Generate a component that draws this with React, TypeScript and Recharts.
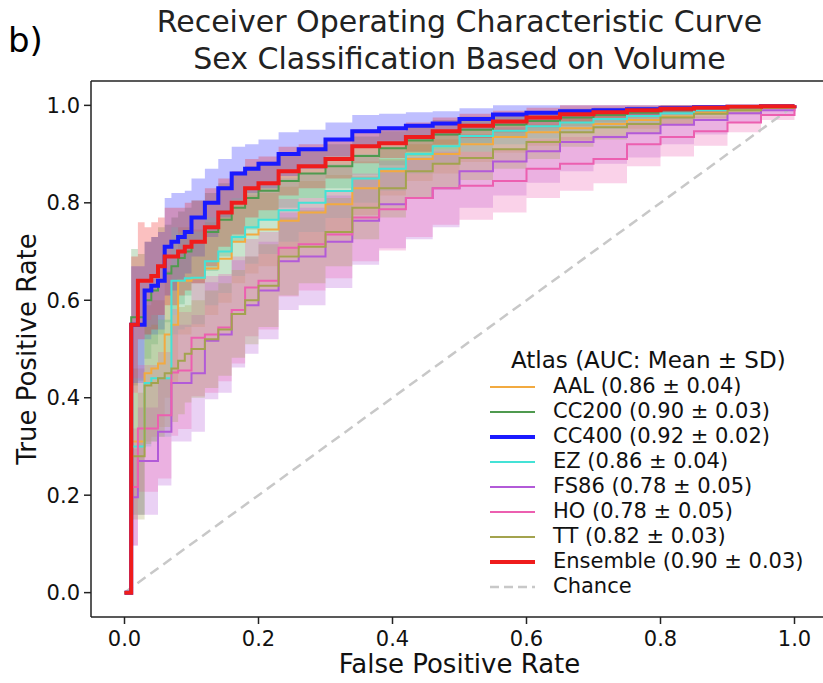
import React from 'react';
import { ComposedChart, Line, Area, XAxis, YAxis, ReferenceLine } from 'recharts';

// false positive rate grid
const fpr = [0, 0.01, 0.02, 0.03, 0.04, 0.05, 0.06, 0.07, 0.08, 0.09, 0.1, 0.12, 0.14, 0.16, 0.18, 0.2, 0.23, 0.26, 0.3, 0.34, 0.38, 0.42, 0.46, 0.5, 0.55, 0.6, 0.65, 0.7, 0.75, 0.8, 0.85, 0.9, 0.95, 1.0];

const aal = [0, 0.31, 0.31, 0.45, 0.46, 0.47, 0.53, 0.55, 0.64, 0.64, 0.645, 0.665, 0.685, 0.72, 0.735, 0.745, 0.763, 0.78, 0.797, 0.83, 0.865, 0.89, 0.9, 0.92, 0.935, 0.945, 0.953, 0.962, 0.97, 0.977, 0.985, 0.99, 0.995, 1];
const cc200 = [0, 0.565, 0.565, 0.6, 0.62, 0.64, 0.655, 0.67, 0.687, 0.7, 0.72, 0.74, 0.765, 0.79, 0.81, 0.825, 0.845, 0.86, 0.875, 0.896, 0.912, 0.928, 0.94, 0.95, 0.96, 0.968, 0.975, 0.98, 0.985, 0.99, 0.993, 0.996, 0.998, 1];
const cc400 = [0, 0.55, 0.55, 0.62, 0.63, 0.64, 0.71, 0.72, 0.73, 0.74, 0.77, 0.8, 0.83, 0.86, 0.87, 0.88, 0.9, 0.91, 0.93, 0.947, 0.953, 0.958, 0.963, 0.972, 0.981, 0.985, 0.988, 0.99, 0.992, 0.994, 0.996, 0.997, 0.998, 1];
const ez = [0, 0.3, 0.3, 0.43, 0.44, 0.44, 0.44, 0.64, 0.64, 0.645, 0.646, 0.68, 0.7, 0.73, 0.75, 0.765, 0.785, 0.8, 0.824, 0.85, 0.87, 0.9, 0.916, 0.937, 0.948, 0.957, 0.965, 0.972, 0.978, 0.984, 0.99, 0.994, 0.997, 1];
const fs86 = [0, 0.196, 0.27, 0.27, 0.27, 0.33, 0.33, 0.43, 0.43, 0.43, 0.45, 0.517, 0.53, 0.572, 0.59, 0.62, 0.68, 0.69, 0.72, 0.763, 0.797, 0.81, 0.83, 0.865, 0.885, 0.906, 0.925, 0.935, 0.943, 0.96, 0.97, 0.984, 0.99, 1];
const ho = [0, 0.217, 0.337, 0.337, 0.337, 0.364, 0.364, 0.452, 0.456, 0.456, 0.523, 0.53, 0.544, 0.58, 0.626, 0.64, 0.708, 0.715, 0.735, 0.77, 0.787, 0.81, 0.83, 0.835, 0.845, 0.87, 0.88, 0.89, 0.92, 0.935, 0.947, 0.965, 0.98, 1];
const tt = [0, 0.28, 0.28, 0.425, 0.43, 0.44, 0.45, 0.46, 0.476, 0.49, 0.5, 0.52, 0.54, 0.572, 0.6, 0.63, 0.69, 0.71, 0.74, 0.79, 0.83, 0.865, 0.88, 0.892, 0.91, 0.925, 0.945, 0.955, 0.962, 0.975, 0.983, 0.99, 0.995, 1];
const ensemble = [0, 0.55, 0.64, 0.64, 0.65, 0.67, 0.69, 0.69, 0.7, 0.71, 0.72, 0.75, 0.78, 0.8, 0.83, 0.84, 0.865, 0.875, 0.89, 0.916, 0.922, 0.935, 0.947, 0.958, 0.967, 0.975, 0.982, 0.986, 0.99, 0.993, 0.995, 0.997, 0.998, 1];

// standard deviation of tpr across folds (half width of shaded bands)
const aalSd = [0, 0.15, 0.15, 0.14, 0.14, 0.13, 0.13, 0.12, 0.11, 0.11, 0.1, 0.095, 0.09, 0.085, 0.08, 0.075, 0.07, 0.065, 0.06, 0.055, 0.05, 0.045, 0.04, 0.036, 0.032, 0.028, 0.025, 0.022, 0.018, 0.015, 0.011, 0.008, 0.004, 0];
const cc200Sd = [0, 0.14, 0.13, 0.12, 0.11, 0.11, 0.1, 0.1, 0.095, 0.09, 0.085, 0.08, 0.075, 0.07, 0.065, 0.06, 0.055, 0.05, 0.045, 0.04, 0.035, 0.032, 0.03, 0.027, 0.024, 0.02, 0.018, 0.015, 0.012, 0.01, 0.008, 0.006, 0.004, 0];
const cc400Sd = [0, 0.12, 0.12, 0.1, 0.1, 0.1, 0.1, 0.1, 0.09, 0.085, 0.08, 0.07, 0.06, 0.055, 0.05, 0.05, 0.045, 0.04, 0.035, 0.033, 0.03, 0.028, 0.025, 0.022, 0.02, 0.018, 0.015, 0.013, 0.012, 0.01, 0.008, 0.006, 0.004, 0];
const ezSd = [0, 0.14, 0.14, 0.13, 0.13, 0.12, 0.12, 0.11, 0.1, 0.1, 0.095, 0.09, 0.085, 0.08, 0.075, 0.07, 0.065, 0.06, 0.055, 0.05, 0.045, 0.04, 0.035, 0.032, 0.028, 0.025, 0.022, 0.02, 0.016, 0.013, 0.01, 0.007, 0.004, 0];
const fs86Sd = [0, 0.1, 0.11, 0.11, 0.11, 0.11, 0.11, 0.12, 0.12, 0.12, 0.12, 0.12, 0.12, 0.11, 0.1, 0.1, 0.1, 0.1, 0.095, 0.09, 0.09, 0.085, 0.08, 0.075, 0.07, 0.065, 0.06, 0.055, 0.05, 0.04, 0.03, 0.02, 0.01, 0];
const hoSd = [0, 0.12, 0.13, 0.13, 0.13, 0.13, 0.13, 0.13, 0.12, 0.12, 0.12, 0.12, 0.11, 0.11, 0.1, 0.1, 0.1, 0.095, 0.09, 0.09, 0.085, 0.08, 0.075, 0.07, 0.065, 0.06, 0.055, 0.05, 0.045, 0.04, 0.03, 0.02, 0.01, 0];
const ttSd = [0, 0.13, 0.13, 0.12, 0.12, 0.12, 0.11, 0.11, 0.11, 0.1, 0.1, 0.1, 0.095, 0.09, 0.09, 0.085, 0.08, 0.075, 0.07, 0.065, 0.06, 0.055, 0.05, 0.045, 0.04, 0.035, 0.03, 0.025, 0.02, 0.016, 0.012, 0.008, 0.004, 0];
const ensembleSd = [0, 0.14, 0.12, 0.11, 0.11, 0.1, 0.1, 0.1, 0.09, 0.09, 0.085, 0.08, 0.07, 0.065, 0.06, 0.055, 0.05, 0.045, 0.04, 0.035, 0.03, 0.03, 0.028, 0.025, 0.022, 0.02, 0.018, 0.015, 0.012, 0.01, 0.008, 0.006, 0.004, 0];

const atlasNames = ['AAL', 'CC200', 'CC400', 'EZ', 'FS86', 'HO', 'TT', 'Ensemble'];
const aucMean = ['0.86', '0.90', '0.92', '0.86', '0.78', '0.78', '0.82', '0.90'];
const aucSd = ['0.04', '0.03', '0.02', '0.04', '0.05', '0.05', '0.03', '0.03'];

const xTicks = [0, 0.2, 0.4, 0.6, 0.8, 1.0];
const yTicks = [0, 0.2, 0.4, 0.6, 0.8, 1.0];

const FONT = '"DejaVu Sans", sans-serif';
const TEXT = '#111';

const series = [
  { key: 'AAL', mean: aal, sd: aalSd, color: '#f2aa40', width: 2 },
  { key: 'CC200', mean: cc200, sd: cc200Sd, color: '#4f9a4f', width: 2 },
  { key: 'CC400', mean: cc400, sd: cc400Sd, color: '#1a1aff', width: 4 },
  { key: 'EZ', mean: ez, sd: ezSd, color: '#44e2d6', width: 2 },
  { key: 'FS86', mean: fs86, sd: fs86Sd, color: '#b25ad8', width: 2 },
  { key: 'HO', mean: ho, sd: hoSd, color: '#ec5fb0', width: 2 },
  { key: 'TT', mean: tt, sd: ttSd, color: '#a3a34e', width: 2 },
  { key: 'Ensemble', mean: ensemble, sd: ensembleSd, color: '#ef1c1c', width: 4 },
];

const rows = fpr.map((x, i) => {
  const row: any = { fpr: x };
  series.forEach((s) => {
    row[s.key] = s.mean[i];
    row[s.key + '_band'] = [Math.max(0, s.mean[i] - s.sd[i]), Math.min(1, s.mean[i] + s.sd[i])];
  });
  return row;
});

const YLabel = (props: any) => {
  const vb = props.viewBox;
  const cx = 27;
  const cy = vb.y + vb.height / 2;
  return (
    <text x={cx} y={cy} transform={`rotate(-90 ${cx} ${cy})`} textAnchor="middle" dominantBaseline="central"
      fontSize={26} fontFamily={FONT} fill={TEXT}>
      True Positive Rate
    </text>
  );
};

const XLabel = (props: any) => {
  const vb = props.viewBox;
  return (
    <text x={vb.x + vb.width / 2} y={664} textAnchor="middle" dominantBaseline="central"
      fontSize={26} fontFamily={FONT} fill={TEXT}>
      False Positive Rate
    </text>
  );
};

const LegendBox = () => (
  <div style={{ position: 'absolute', left: 488, top: 347, fontFamily: FONT, color: TEXT, fontSize: 21 }}>
    <div style={{ height: 27, lineHeight: '27px', paddingLeft: 23, fontSize: 23, whiteSpace: 'nowrap' }}>
      Atlas (AUC: Mean ± SD)
    </div>
    {series.map((s, i) => (
      <div key={s.key} style={{ height: 25, display: 'flex', alignItems: 'center', whiteSpace: 'nowrap' }}>
        <svg width={47} height={10}>
          <line x1={2} x2={47} y1={5} y2={5} stroke={s.color} strokeWidth={s.width} />
        </svg>
        <span style={{ marginLeft: 18, lineHeight: '25px' }}>
          {`${atlasNames[i]} (${aucMean[i]} ± ${aucSd[i]})`}
        </span>
      </div>
    ))}
    <div style={{ height: 25, display: 'flex', alignItems: 'center' }}>
      <svg width={47} height={10}>
        <line x1={2} x2={47} y1={5} y2={5} stroke="#c8c8c8" strokeWidth={2.5} strokeDasharray="9 5" />
      </svg>
      <span style={{ marginLeft: 18, lineHeight: '25px' }}>Chance</span>
    </div>
  </div>
);

export default function App() {
  const axisStroke = { stroke: '#222', strokeWidth: 1.5 };
  return (
    <div style={{ position: 'absolute', left: 0, top: 0, width: 823, height: 683, overflow: 'hidden', background: '#fff' }}>
      <div style={{ position: 'absolute', left: 8, top: 20, fontFamily: FONT, fontSize: 34, color: '#000' }}>b)</div>
      <div style={{ position: 'absolute', left: 0, top: 3, width: 919, textAlign: 'center', fontFamily: FONT, fontSize: 30, lineHeight: '37px', color: '#222' }}>
        Receiver Operating Characteristic Curve
        <br />
        Sex Classification Based on Volume
      </div>
      <div style={{ position: 'absolute', left: 0, top: 0 }}>
        <ComposedChart width={840} height={683} data={rows} margin={{ top: 81, right: 12, bottom: 0, left: 31 }}>
          <XAxis dataKey="fpr" type="number" domain={[-0.05, 1.05]} ticks={xTicks} height={66}
            tickFormatter={(v: number) => v.toFixed(1)} tickSize={7} tickMargin={7}
            tick={{ fontSize: 21, fontFamily: FONT, fill: TEXT }} axisLine={axisStroke} tickLine={axisStroke}
            label={<XLabel />} />
          <YAxis type="number" domain={[-0.05, 1.05]} ticks={yTicks} width={60}
            tickFormatter={(v: number) => v.toFixed(1)} tickSize={7} tickMargin={4}
            tick={{ fontSize: 21, fontFamily: FONT, fill: TEXT }} axisLine={axisStroke} tickLine={axisStroke}
            label={<YLabel />} />
          {/* top and right frame of the axes box */}
          <ReferenceLine y={1.05} stroke="#222" strokeWidth={1.5} ifOverflow="visible" />
          <ReferenceLine x={1.05} stroke="#222" strokeWidth={1.5} ifOverflow="visible" />
          <ReferenceLine segment={[{ x: 0, y: 0 }, { x: 1, y: 1 }]} stroke="#c8c8c8" strokeWidth={2.5} strokeDasharray="10 6" />
          {series.map((s) => (
            <Area key={s.key + '_band'} dataKey={s.key + '_band'} type="stepAfter" stroke="none"
              fill={s.color} fillOpacity={0.28} isAnimationActive={false} dot={false} activeDot={false} />
          ))}
          {series.map((s) => (
            <Line key={s.key} dataKey={s.key} type="stepAfter" stroke={s.color} strokeWidth={s.width}
              dot={false} activeDot={false} isAnimationActive={false} />
          ))}
        </ComposedChart>
      </div>
      <LegendBox />
    </div>
  );
}
